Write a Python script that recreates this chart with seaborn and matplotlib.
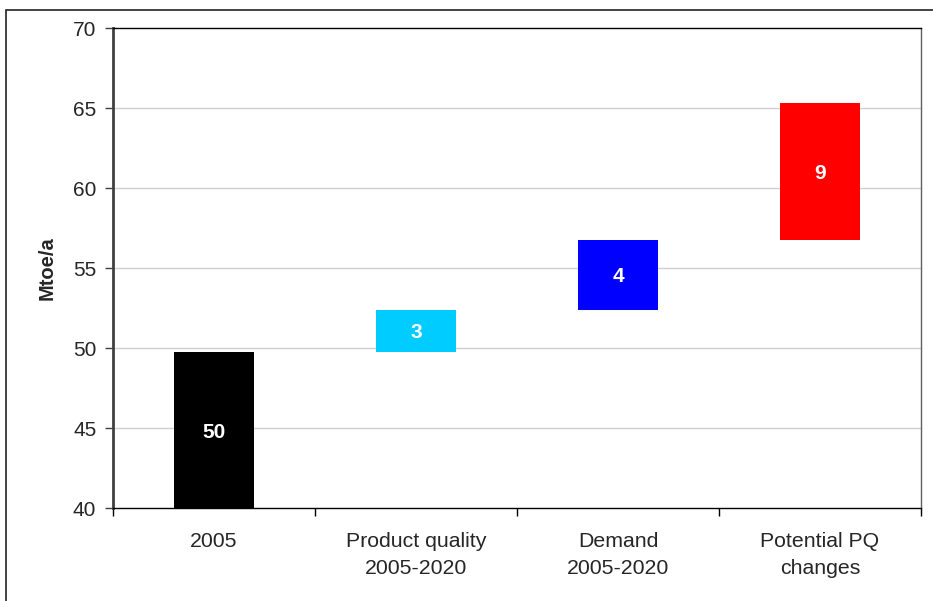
import matplotlib
matplotlib.use("Agg")
import matplotlib.pyplot as plt
from matplotlib.patches import Rectangle
import seaborn as sns
import numpy as np

# Waterfall steps (Mtoe/a)
categories = ["2005", "Product quality\n2005-2020", "Demand\n2005-2020", "Potential PQ\nchanges"]
increments = [49.75, 2.625, 4.375, 8.56]
bar_colors = ["#000000", "#00CCFF", "#0000FF", "#FF0000"]
y_ticks = [40, 45, 50, 55, 60, 65, 70]

bases = list(np.concatenate([[0.0], np.cumsum(increments)[:-1]]))
tops = [b + v for b, v in zip(bases, increments)]

sns.set_style("white")
plt.rcParams["font.family"] = ["Liberation Sans", "DejaVu Sans"]

fig = plt.figure(figsize=(9.33, 6.01), dpi=100)
ax = fig.add_axes([113 / 933, 1 - 508 / 601, (921 - 113) / 933, (508 - 28) / 601])

sns.barplot(x=categories, y=increments, bottom=bases, color="#000000",
            width=0.4, ax=ax, zorder=3, linewidth=0)
for patch, c in zip(ax.patches, bar_colors):
    patch.set_facecolor(c)
    patch.set_edgecolor(c)

ax.set_ylim(40, 70)
ax.set_xlim(-0.5, len(categories) - 0.5)
ax.set_yticks(y_ticks)
ax.set_yticklabels([str(t) for t in y_ticks], fontsize=15)
ax.tick_params(axis="y", direction="out", length=6, width=1, color="#404040", pad=6, left=True)

# Category boundaries carry the x ticks; names sit at the bar centres
ax.set_xticks(np.arange(len(categories) + 1) - 0.5)
ax.set_xticklabels([])
ax.tick_params(axis="x", direction="out", length=6, width=1, color="#000000", bottom=True)
for i, name in enumerate(categories):
    ax.text(i, -0.05, name, transform=ax.get_xaxis_transform(), ha="center", va="top",
            fontsize=15.3, linespacing=1.5)

for y in y_ticks[1:-1]:
    ax.axhline(y, color="#d0d0d0", linewidth=1, zorder=1)

ax.set_ylabel("Mtoe/a", fontsize=14.5, fontweight="bold", labelpad=12)
ax.set_xlabel("")

for side in ["top", "bottom"]:
    ax.spines[side].set_color("#000000")
    ax.spines[side].set_linewidth(1)
ax.spines["left"].set_color("#404040")
ax.spines["left"].set_linewidth(2)
ax.spines["right"].set_color("#606060")
ax.spines["right"].set_linewidth(1)

# Value labels centred in the visible part of each bar
ymin, ymax = ax.get_ylim()
for i, (b, t, v) in enumerate(zip(bases, tops, increments)):
    lo, hi = max(b, ymin), min(t, ymax)
    ax.text(i, (lo + hi) / 2, f"{v:.0f}", ha="center", va="center_baseline",
            color="white", fontsize=15, fontweight="bold", zorder=4)

# Outer chart frame
fig.patches.append(Rectangle((6 / 933, -0.05), 1.1, 1 - 10 / 601 + 0.05,
                             transform=fig.transFigure, fill=False,
                             edgecolor="#222222", linewidth=1.2))

fig.savefig("out.png", dpi=100)
